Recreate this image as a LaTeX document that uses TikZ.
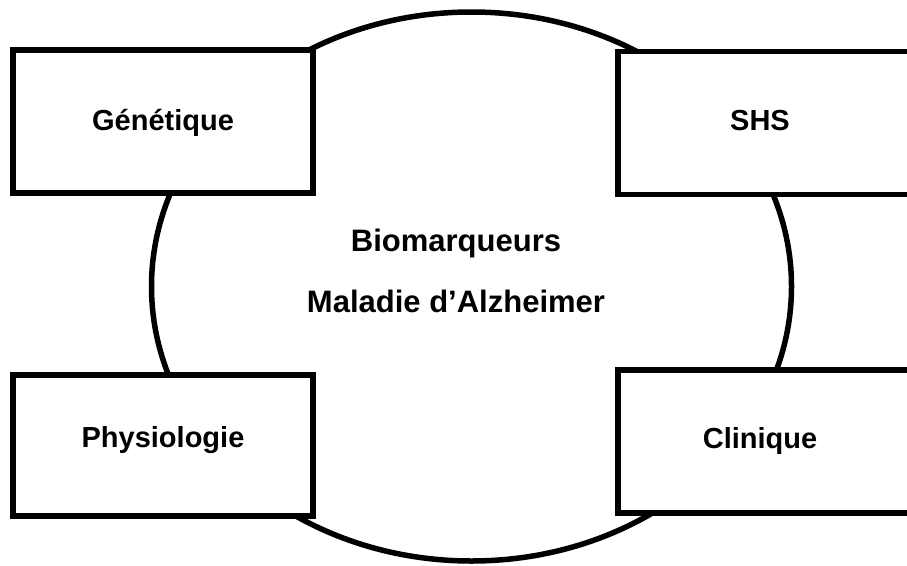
\documentclass[tikz,border=0pt]{standalone}
\usepackage{fontspec}
\setmainfont{Liberation Sans}
\usetikzlibrary{shapes.geometric}
\tikzset{
	trait/.style={line width=5.5pt},
	cadre/.style={trait,draw,fill=white,minimum width=300pt,minimum height=143pt,inner sep=0pt,
		font=\bfseries\fontsize{29}{34}\selectfont,text height=25.6pt,text depth=8pt},
	titre/.style={align=center,font=\bfseries\fontsize{31}{61}\selectfont},
}
\begin{document}
\begin{tikzpicture}[x=1pt,y=-1pt]
	\useasboundingbox (0,0) rectangle (907,565) ;
	\clip (0,0) rectangle (907,565) ;
	% le grand ovale
	\node[trait,draw,ellipse,minimum width=640pt,minimum height=549pt,inner sep=0pt] (ovale) at (471.5,286.5) {} ;
	\node[titre] (bio) at (456,271) {Biomarqueurs\\Maladie d’Alzheimer} ;
	% les quatre cadres
	\node[cadre] (gen) at (163,121.5) {Génétique} ;
	\node[cadre,text depth=10pt] (shs) at (768,122.75) {SHS\hspace*{16pt}} ;
	\node[cadre,minimum height=141pt,text depth=21pt] (phy) at (163,445.5) {Physiologie} ;
	\node[cadre,text depth=12pt] (cli) at (768,441.5) {Clinique\hspace*{16pt}} ;
\end{tikzpicture}
\end{document}
